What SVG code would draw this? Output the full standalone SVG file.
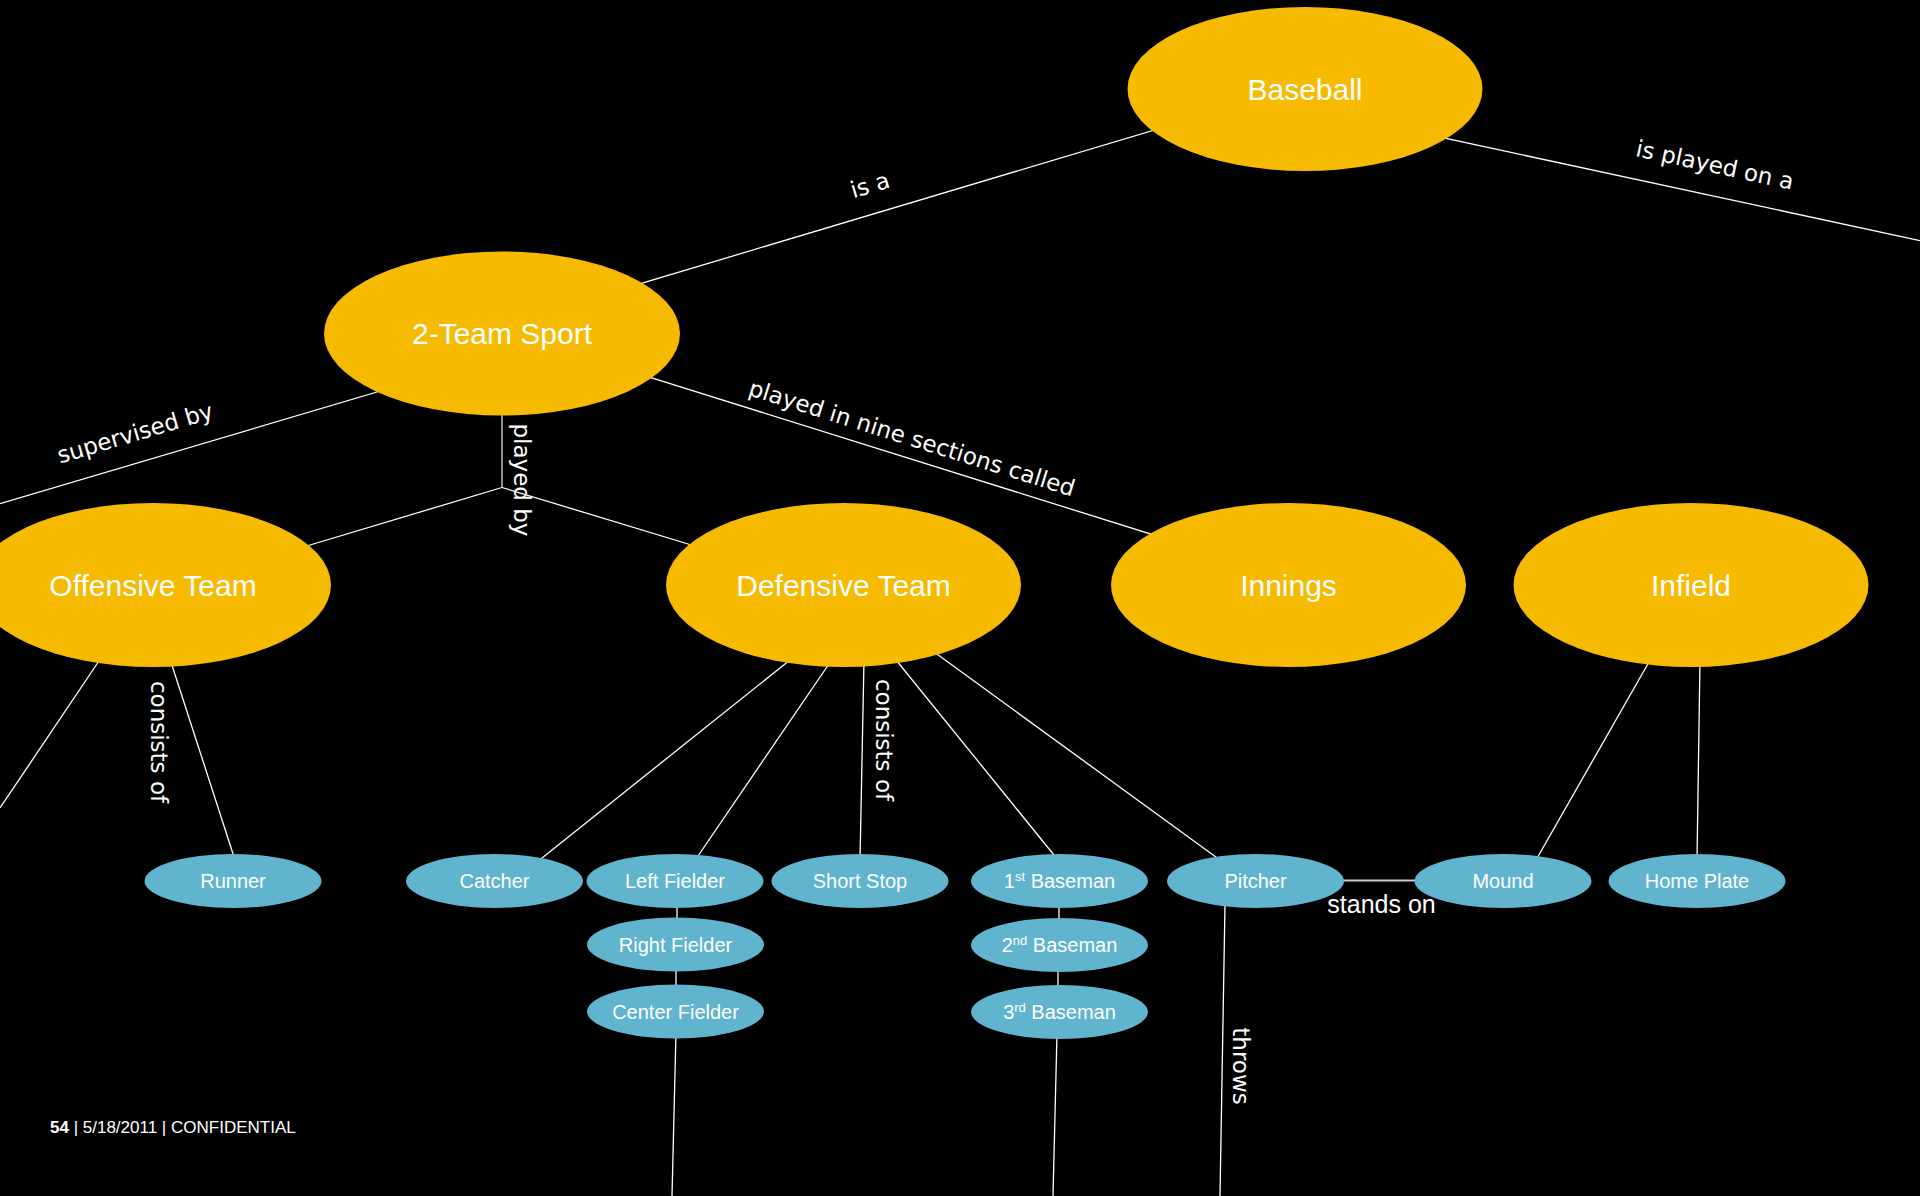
<svg xmlns="http://www.w3.org/2000/svg" width="1920" height="1196" viewBox="0 0 1920 1196">
<style>
.bg{fill:#000}
.big{fill:#F6BB00}
.small{fill:#60B4CE}
.bl{font-family:"Liberation Sans",Arial,sans-serif;font-size:30px;fill:#fff;text-anchor:middle}
.sl{font-family:"Liberation Sans",Arial,sans-serif;font-size:20px;fill:#fff;text-anchor:middle}
.el{font-family:"DejaVu Sans",Verdana,sans-serif;font-size:23px;fill:#fff;text-anchor:middle}
.ln{stroke:#fff;stroke-width:1.3;fill:none}
.ft{font-family:"Liberation Sans",Arial,sans-serif;font-size:17px;fill:#fff}
</style>
<rect class="bg" x="0" y="0" width="1920" height="1196"/>
<g id="connectors">
<line class="ln" x1="1305" y1="85" x2="502" y2="325"/>
<line class="ln" x1="1305" y1="108" x2="1920" y2="240.6"/>
<line class="ln" x1="502" y1="355" x2="0" y2="503.6"/>
<line class="ln" x1="502" y1="331" x2="1288" y2="577"/>
<line class="ln" x1="502" y1="410" x2="502" y2="487.5" style="stroke:#ddd"/>
<line class="ln" x1="502" y1="487.5" x2="300" y2="548"/>
<line class="ln" x1="502" y1="487.5" x2="698" y2="547"/>
<line class="ln" x1="105" y1="652" x2="0" y2="808"/>
<line class="ln" x1="169" y1="656" x2="235" y2="860"/>
<line class="ln" x1="795" y1="656" x2="537" y2="862"/>
<line class="ln" x1="833" y1="658" x2="696" y2="859"/>
<line class="ln" x1="864" y1="660" x2="860" y2="860"/>
<line class="ln" x1="892" y1="655" x2="1058" y2="860"/>
<line class="ln" x1="930" y1="649" x2="1220" y2="860"/>
<line class="ln" x1="1653" y1="655" x2="1536" y2="860"/>
<line class="ln" x1="1700" y1="660" x2="1697" y2="860"/>
<line class="ln" x1="1340" y1="880.5" x2="1420" y2="880.5" style="stroke:#ccc;stroke-width:2.2"/>
<line class="ln" x1="677" y1="905" x2="677" y2="922"/>
<line class="ln" x1="676" y1="966" x2="676" y2="990"/>
<line class="ln" x1="676" y1="1032" x2="672" y2="1196"/>
<line class="ln" x1="1059" y1="905" x2="1059" y2="922"/>
<line class="ln" x1="1058" y1="966" x2="1058" y2="990"/>
<line class="ln" x1="1057" y1="1033" x2="1053" y2="1196"/>
<line class="ln" x1="1225" y1="904" x2="1220" y2="1196"/>
</g>
<g id="edge-labels">
<text class="el" transform="translate(870,185) rotate(-16.6)" dy="8">is a</text>
<text class="el" transform="translate(1715,165) rotate(12.2)" dy="8">is played on a</text>
<text class="el" transform="translate(135,433) rotate(-16.5)" dy="8">supervised by</text>
<text class="el" transform="translate(912,438) rotate(17.4)" dy="8">played in nine sections called</text>
<text class="el" transform="translate(522,480) rotate(90)" dy="8">played by</text>
<text class="el" transform="translate(159,742) rotate(90)" dy="8">consists of</text>
<text class="el" transform="translate(884,740) rotate(90)" dy="8">consists of</text>
<text class="el" transform="translate(1241,1066) rotate(90)" dy="8">throws</text>
<text class="bl" x="1381.5" y="913" style="font-size:25px">stands on</text>
</g>
<g id="node-baseball"><ellipse class="big" cx="1305" cy="89" rx="177.5" ry="82"/><text class="bl" x="1305" y="99.5">Baseball</text></g>
<g id="node-2team"><ellipse class="big" cx="502" cy="333.5" rx="178" ry="82"/><text class="bl" x="502" y="344">2-Team Sport</text></g>
<g id="node-offensive"><ellipse class="big" cx="153" cy="585" rx="178" ry="82"/><text class="bl" x="153" y="595.5">Offensive Team</text></g>
<g id="node-defensive"><ellipse class="big" cx="843.5" cy="585" rx="177.5" ry="82"/><text class="bl" x="843.5" y="595.5">Defensive Team</text></g>
<g id="node-innings"><ellipse class="big" cx="1288.5" cy="585" rx="177.5" ry="82"/><text class="bl" x="1288.5" y="595.5">Innings</text></g>
<g id="node-infield"><ellipse class="big" cx="1691" cy="585" rx="177.5" ry="82"/><text class="bl" x="1691" y="595.5">Infield</text></g>
<g id="node-runner"><ellipse class="small" cx="233" cy="881" rx="88.5" ry="27"/><text class="sl" x="233" y="888">Runner</text></g>
<g id="node-catcher"><ellipse class="small" cx="494.5" cy="881" rx="88.5" ry="27"/><text class="sl" x="494.5" y="888">Catcher</text></g>
<g id="node-leftfielder"><ellipse class="small" cx="675" cy="881" rx="88.5" ry="27"/><text class="sl" x="675" y="888">Left Fielder</text></g>
<g id="node-shortstop"><ellipse class="small" cx="860" cy="881" rx="88.5" ry="27"/><text class="sl" x="860" y="888">Short Stop</text></g>
<g id="node-1stbaseman"><ellipse class="small" cx="1059.5" cy="881" rx="88.5" ry="27"/><text class="sl" x="1059.5" y="888">1<tspan font-size="13" dy="-7">st</tspan><tspan dy="7"> Baseman</tspan></text></g>
<g id="node-pitcher"><ellipse class="small" cx="1255.5" cy="881" rx="88.5" ry="27"/><text class="sl" x="1255.5" y="888">Pitcher</text></g>
<g id="node-mound"><ellipse class="small" cx="1503" cy="881" rx="88.5" ry="27"/><text class="sl" x="1503" y="888">Mound</text></g>
<g id="node-homeplate"><ellipse class="small" cx="1697" cy="881" rx="88.5" ry="27"/><text class="sl" x="1697" y="888">Home Plate</text></g>
<g id="node-rightfielder"><ellipse class="small" cx="675.5" cy="944.5" rx="88.5" ry="27"/><text class="sl" x="675.5" y="951.5">Right Fielder</text></g>
<g id="node-centerfielder"><ellipse class="small" cx="675.5" cy="1011.5" rx="88.5" ry="27"/><text class="sl" x="675.5" y="1018.5">Center Fielder</text></g>
<g id="node-2ndbaseman"><ellipse class="small" cx="1059.5" cy="945" rx="88.5" ry="27"/><text class="sl" x="1059.5" y="952">2<tspan font-size="13" dy="-7">nd</tspan><tspan dy="7"> Baseman</tspan></text></g>
<g id="node-3rdbaseman"><ellipse class="small" cx="1059.5" cy="1012" rx="88.5" ry="27"/><text class="sl" x="1059.5" y="1019">3<tspan font-size="13" dy="-7">rd</tspan><tspan dy="7"> Baseman</tspan></text></g>
<g id="footer"><text class="ft" x="50" y="1133"><tspan font-weight="bold">54</tspan> | 5/18/2011 | CONFIDENTIAL</text></g>
</svg>
